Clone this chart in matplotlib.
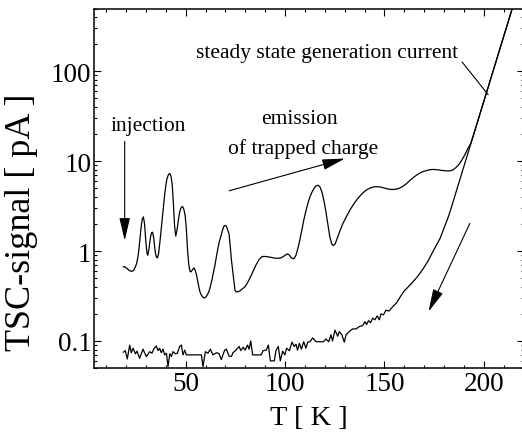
import matplotlib
matplotlib.use("Agg")
import matplotlib.pyplot as plt
from matplotlib.ticker import FixedLocator, LogLocator, NullFormatter, FixedFormatter

plt.rcParams['font.family'] = ['Liberation Serif', 'DejaVu Serif']

# ---- data ----
upper_T = [18.6, 19.5, 20.5, 21.5, 22.8, 23.8, 24.6, 25.4, 26.1, 26.8, 27.5, 28.1, 28.7, 29.3, 29.9,
           30.5, 30.9, 31.5, 32.2, 32.8, 33.3, 33.9, 34.6, 35.2, 35.8, 36.4, 37.0, 37.6, 38.2, 38.8,
           39.4, 40.0, 40.6, 41.3, 42.0, 42.6, 43.2, 43.8, 44.4, 45.0, 45.6, 46.3, 47.0, 47.7, 48.4,
           49.1, 49.7, 50.3, 50.9, 51.5, 52.1, 52.7, 53.4, 54.2, 54.9, 55.5, 56.3, 57.2, 58.0, 58.8,
           59.4, 60.2, 61.0, 61.8, 62.6, 63.4, 64.1, 64.7, 65.5, 66.3, 67.0, 67.8, 68.5, 69.2, 69.8,
           70.4, 71.0, 71.8, 72.4, 73.0, 73.5, 74.1, 74.8, 75.5, 76.3, 77.3, 78.5, 79.8, 81.0, 82.5,
           84.0, 85.5, 87.0, 88.5, 90.0, 92.0, 94.0, 96.0, 98.0, 99.5, 101.0, 102.0, 103.2, 104.5,
           105.5, 106.5, 107.5, 108.5, 109.5, 110.5, 111.5, 112.5, 113.5, 114.5, 115.5, 116.5, 117.5,
           118.5, 119.5, 120.5, 121.5, 122.5, 123.5, 124.3, 125.2, 126.2, 127.5, 129.0, 131.0, 133.0,
           135.0, 137.0, 139.0, 141.0, 143.0, 145.0, 147.0, 149.0, 151.0, 153.0, 155.0, 157.0, 159.0,
           161.0, 163.0, 165.0, 167.0, 169.0, 171.0, 173.0, 175.0, 177.0, 179.0, 181.0, 183.0, 184.5,
           186.0, 187.5, 189.0, 190.5, 192.0, 193.5]
upper_I = [0.67, 0.665, 0.64, 0.61, 0.594, 0.61, 0.66, 0.74, 0.9, 1.25, 1.8, 2.25, 2.4, 2.0, 1.3,
           0.95, 0.9, 1.05, 1.4, 1.6, 1.62, 1.4, 1.0, 0.86, 0.84, 0.95, 1.25, 1.7, 2.3, 3.1,
           4.2, 5.4, 6.4, 7.1, 7.3, 6.8, 5.5, 3.4, 1.9, 1.47, 1.7, 2.2, 2.75, 3.05, 3.14,
           2.9, 2.5, 1.8, 1.05, 0.72, 0.6, 0.586, 0.62, 0.65, 0.6, 0.537, 0.43, 0.35, 0.32, 0.305,
           0.30, 0.31, 0.33, 0.36, 0.42, 0.5, 0.6, 0.69, 0.88, 1.1, 1.3, 1.49, 1.7, 1.88, 1.93,
           1.9, 1.75, 1.56, 1.15, 0.8, 0.64, 0.48, 0.366, 0.35, 0.355, 0.36, 0.38, 0.40, 0.44, 0.51,
           0.6, 0.71, 0.81, 0.87, 0.87, 0.86, 0.84, 0.83, 0.84, 0.88, 0.93, 0.91, 0.84, 0.82,
           0.9, 1.08, 1.35, 1.75, 2.25, 2.8, 3.4, 4.0, 4.5, 4.95, 5.3, 5.4, 5.2,
           4.6, 3.7, 2.8, 2.0, 1.45, 1.2, 1.15, 1.2, 1.38, 1.65, 2.0, 2.45, 2.95,
           3.45, 3.95, 4.4, 4.8, 5.05, 5.2, 5.2, 5.1, 4.95, 4.85, 4.85, 4.95, 5.2,
           5.6, 6.15, 6.7, 7.2, 7.6, 7.85, 8.05, 8.1, 8.0, 7.9, 7.8, 7.8, 8.0,
           8.5, 9.2, 10.3, 11.8, 13.8, 15.8]

lower_T = [18.6, 19.6, 20.6, 21.8, 22.6, 23.5, 24.7, 25.5, 26.8, 28.5, 30.2, 31.9, 33.0, 33.9, 35.2,
           36.1, 36.9, 37.7, 38.6, 39.4, 40.3, 41.1, 42.0, 42.8, 43.6, 44.8, 45.8, 47.0, 47.8, 48.6,
           49.5, 50.3, 57.9, 58.7, 59.9, 61.2, 62.4, 63.7, 64.6, 65.7, 66.8, 67.9, 69.6, 70.5, 71.8,
           73.0, 73.8, 75.3, 76.9, 77.7, 78.9, 79.9, 81.1, 81.9, 82.7, 83.7, 88.0, 88.9, 90.5, 91.6,
           92.6, 94.6, 95.4, 96.6, 97.6, 98.8, 99.9, 100.8, 102.2, 103.5, 104.6, 105.5, 106.3, 107.2,
           108.2, 109.4, 110.5, 111.4, 112.5, 113.9, 115.6, 119.3, 120.6, 122.0, 123.1, 123.9, 125.1,
           126.5, 127.3, 128.6, 129.8, 130.7, 132.3, 134.0, 135.7, 137.5, 139.0, 140.2, 141.0, 142.0,
           143.0, 144.1, 145.2, 146.4, 147.4, 148.3, 149.5, 150.8, 152.3, 154.5, 156.1, 158.0, 160.0,
           162.0, 164.0, 166.0, 168.0, 170.0, 172.0, 174.0, 176.0, 178.0, 180.0, 182.0, 183.0]
lower_I = [0.075, 0.078, 0.063, 0.090, 0.074, 0.083, 0.072, 0.077, 0.064, 0.081, 0.067, 0.076, 0.073,
           0.081, 0.088, 0.078, 0.083, 0.074, 0.081, 0.070, 0.073, 0.052, 0.072, 0.067, 0.076, 0.072,
           0.073, 0.087, 0.090, 0.070, 0.079, 0.070, 0.070, 0.052, 0.076, 0.073, 0.081, 0.070, 0.072,
           0.074, 0.072, 0.062, 0.079, 0.081, 0.068, 0.067, 0.074, 0.079, 0.087, 0.078, 0.085, 0.079,
           0.090, 0.081, 0.100, 0.070, 0.070, 0.078, 0.079, 0.090, 0.060, 0.060, 0.078, 0.087, 0.060,
           0.077, 0.070, 0.083, 0.078, 0.097, 0.087, 0.092, 0.079, 0.094, 0.081, 0.098, 0.083, 0.097,
           0.098, 0.108, 0.098, 0.098, 0.105, 0.098, 0.117, 0.100, 0.132, 0.113, 0.127, 0.117, 0.097,
           0.117, 0.127, 0.136, 0.136, 0.145, 0.148, 0.164, 0.152, 0.168, 0.160, 0.179, 0.172, 0.190,
           0.172, 0.200, 0.195, 0.220, 0.215, 0.245, 0.265, 0.31, 0.36, 0.40, 0.445, 0.50, 0.57, 0.66,
           0.78, 0.95, 1.15, 1.38, 1.8, 2.35, 2.73]

# common steep "steady state generation current" branch
steep_T = [185, 187, 189, 191, 193, 195, 197, 199, 201, 203, 205, 207, 209, 211, 213, 215]
steep_I = [3.8, 5.3, 7.4, 10.3, 14.4, 20.1, 28.0, 39.0, 54.5, 76, 106, 148, 206, 287, 400, 560]

x_major = [50, 100, 150, 200]
y_major = [0.1, 1, 10, 100]
y_labels = ['0.1', '1', '10', '100']

# ---- figure ----
fig = plt.figure(figsize=(5.22, 4.35), dpi=100)
ax = fig.add_axes([94.3 / 522, 66 / 435, (523.5 - 94.3) / 522, 359.5 / 435])

up_T = upper_T + [t for t in steep_T if t > upper_T[-1]]
up_I = upper_I + [i for t, i in zip(steep_T, steep_I) if t > upper_T[-1]]
lo_T = lower_T + steep_T
lo_I = lower_I + steep_I

ax.plot(up_T, up_I, color='black', lw=0.9)
ax.plot(lo_T, lo_I, color='black', lw=0.9)

ax.set_yscale('log')
ax.set_xlim(4, 220)
ax.set_ylim(0.05, 500)

ax.xaxis.set_major_locator(FixedLocator(x_major))
ax.xaxis.set_minor_locator(FixedLocator(list(range(10, 221, 10))))
ax.yaxis.set_major_locator(FixedLocator(y_major))
ax.yaxis.set_major_formatter(FixedFormatter(y_labels))
ax.yaxis.set_minor_locator(LogLocator(base=10, subs=range(2, 10), numticks=20))
ax.yaxis.set_minor_formatter(NullFormatter())

ax.tick_params(which='both', direction='in', top=True, right=True, width=0.8)
ax.tick_params(which='major', length=5, labelsize=19.5, pad=2)
ax.tick_params(which='minor', length=2.5)
for s in ax.spines.values():
    s.set_linewidth(1.1)

ax.set_xlabel('T [ K ]', fontsize=20.5, labelpad=7)
fig.text(22 / 522, 1 - 222.5 / 435, 'TSC-signal [ pA ]', rotation=90,
         ha='center', va='center', fontsize=26)

# ---- annotations ----
head = dict(arrowstyle='-|>,head_length=1.4,head_width=0.33', color='black', lw=0.8,
            shrinkA=0, shrinkB=0, mutation_scale=10)
ax.text(31.0, 24.7, 'injection', fontsize=15.5, ha='center', va='center')
ax.annotate('', xy=(19.3, 1.31), xytext=(19.3, 16.6), arrowprops=head)

ax.text(107.0, 29.6, 'emission', fontsize=15.5, ha='center', va='center')
ax.text(109.0, 14.1, 'of trapped charge', fontsize=15.5, ha='center', va='center')
ax.annotate('', xy=(130.1, 10.7), xytext=(71.9, 4.69), arrowprops=head)

ax.text(120.9, 160, 'steady state generation current', fontsize=15.5, ha='center', va='center')
ax.annotate('', xy=(202.2, 55), xytext=(189.1, 127),
            arrowprops=dict(arrowstyle='-', color='black', lw=0.8, shrinkA=0, shrinkB=0))

ax.annotate('', xy=(172.2, 0.212), xytext=(193, 2.03), arrowprops=head)

fig.savefig('out.png', dpi=100)
